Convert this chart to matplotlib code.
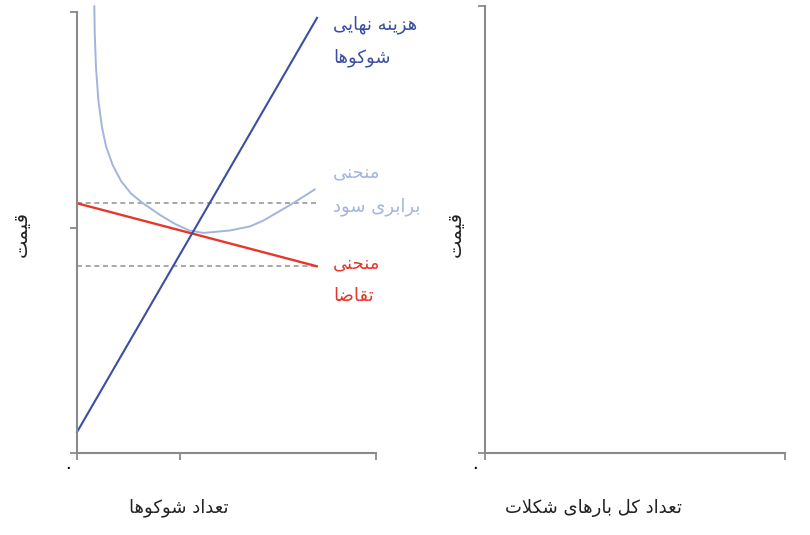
import numpy as np
import matplotlib
matplotlib.use('Agg')
import matplotlib.pyplot as plt

plt.rcParams['font.family'] = ['DejaVu Sans']

# ── data ──
# marginal cost of the firm (straight line)
mc_q = [0.0, 23.28]
mc_p = [0.93, 19.34]
# demand curve facing the firm
dem_q = [0.0, 23.25]
dem_p = [11.1, 8.3]
# break-even (average cost) curve
be_q = [1.68, 1.72, 1.84, 2.07, 2.42, 2.81, 3.46, 4.27, 5.24, 6.37, 8.05, 9.51,
        10.89, 12.26, 14.84, 16.78, 18.07, 19.69, 20.98, 23.08]
be_p = [19.87, 18.67, 17.16, 15.69, 14.49, 13.64, 12.80, 12.09, 11.53, 11.11, 10.58, 10.18,
        9.89, 9.78, 9.89, 10.07, 10.33, 10.76, 11.11, 11.72]
# dashed reference prices
ref_prices = [11.1, 8.3]
ref_q_end = 23.3

x_max, y_max = 29.0, 19.6
x_ticks = [0, 10, x_max]
y_ticks = [0, 10, y_max]

lbl_mc = ['هزینه نهایی', 'شوکوها']
lbl_be = ['منحنی', 'برابری سود']
lbl_dem = ['منحنی', 'تقاضا']
lbl_price = 'قیمت'
lbl_left_x = 'تعداد شوکوها'
lbl_right_x = 'تعداد کل بارهای شکلات'
lbl_zero = '۰'

# ── poor man's Arabic shaping (matplotlib has no bidi / shaping) ──
DUAL = set('بتحسشضعقلمنهیک')
FORMS = {
    'ا': ('\uFE8D', '\uFE8E', None, None),
    'ب': ('\uFE8F', '\uFE90', '\uFE91', '\uFE92'),
    'ت': ('\uFE95', '\uFE96', '\uFE97', '\uFE98'),
    'ح': ('\uFEA1', '\uFEA2', '\uFEA3', '\uFEA4'),
    'د': ('\uFEA9', '\uFEAA', None, None),
    'ر': ('\uFEAD', '\uFEAE', None, None),
    'ز': ('\uFEAF', '\uFEB0', None, None),
    'س': ('\uFEB1', '\uFEB2', '\uFEB3', '\uFEB4'),
    'ش': ('\uFEB5', '\uFEB6', '\uFEB7', '\uFEB8'),
    'ض': ('\uFEBD', '\uFEBE', '\uFEBF', '\uFEC0'),
    'ع': ('\uFEC9', '\uFECA', '\uFECB', '\uFECC'),
    'ق': ('\uFED5', '\uFED6', '\uFED7', '\uFED8'),
    'ل': ('\uFEDD', '\uFEDE', '\uFEDF', '\uFEE0'),
    'م': ('\uFEE1', '\uFEE2', '\uFEE3', '\uFEE4'),
    'ن': ('\uFEE5', '\uFEE6', '\uFEE7', '\uFEE8'),
    'ه': ('\uFEE9', '\uFEEA', '\uFEEB', '\uFEEC'),
    'و': ('\uFEED', '\uFEEE', None, None),
    'ی': ('\uFBFC', '\uFBFD', '\uFBFE', '\uFBFF'),
    'ک': ('\uFB8E', '\uFB8F', '\uFB90', '\uFB91'),
}


def fa(s):
    out = []
    i = 0
    while i < len(s):
        c = s[i]
        if c not in FORMS:
            out.append(c)
            i += 1
            continue
        joins_prev = i > 0 and s[i - 1] in DUAL
        if c == 'ل' and i + 1 < len(s) and s[i + 1] == 'ا':
            out.append('\uFEFC' if joins_prev else '\uFEFB')
            i += 2
            continue
        joins_next = c in DUAL and i + 1 < len(s) and s[i + 1] in FORMS
        iso, fin, ini, med = FORMS[c]
        if joins_prev and joins_next:
            out.append(med)
        elif joins_prev:
            out.append(fin)
        elif joins_next:
            out.append(ini)
        else:
            out.append(iso)
        i += 1
    return ''.join(reversed(out))


C_MC = '#3b4ea3'
C_BE = '#a3b4dd'
C_DEM = '#e5382b'
C_AX = '#8a8a8a'
C_DASH = '#9a9a9a'
FS = 13

fig = plt.figure(figsize=(8.1, 5.35), dpi=100)
ax1 = fig.add_axes([77 / 810, 82 / 535, 299 / 810, 441 / 535])
ax2 = fig.add_axes([485 / 810, 82 / 535, 300 / 810, 447 / 535])


def style(ax, xt, yt):
    for s in ['top', 'right']:
        ax.spines[s].set_visible(False)
    for s in ['left', 'bottom']:
        ax.spines[s].set_color(C_AX)
        ax.spines[s].set_linewidth(1.5)
    ax.set_xticks(xt)
    ax.set_yticks(yt)
    ax.set_xticklabels([])
    ax.set_yticklabels([])
    ax.tick_params(direction='out', length=5, width=1.3, color=C_AX)


# ── left panel: the firm ──
ax1.set_xlim(0, x_max)
ax1.set_ylim(0, y_max)
style(ax1, x_ticks, y_ticks)

for p in ref_prices:
    ax1.plot([0, ref_q_end], [p, p], color=C_DASH, lw=1.2, dashes=(3, 2.2))
ax1.plot(be_q, be_p, color=C_BE, lw=1.4, clip_on=False,
         solid_capstyle='round', solid_joinstyle='round')
ax1.plot(dem_q, dem_p, color=C_DEM, lw=1.7)
ax1.plot(mc_q, mc_p, color=C_MC, lw=1.5, clip_on=False)

x_lab = 24.83
for txt, y, col in [(lbl_mc[0], 19.02, C_MC), (lbl_mc[1], 17.56, C_MC),
                    (lbl_be[0], 12.49, C_BE), (lbl_be[1], 10.93, C_BE),
                    (lbl_dem[0], 8.44, C_DEM), (lbl_dem[1], 6.98, C_DEM)]:
    ax1.text(x_lab, y, fa(txt), color=col, fontsize=FS, ha='left', va='center',
             clip_on=False)

# ── right panel: the market ──
ax2.set_xlim(0, 1)
ax2.set_ylim(0, 1)
style(ax2, [0, 1], [0, 1])

# axis labels and origins
fig.text(21 / 810, 1 - 234 / 535, fa(lbl_price), rotation=90, fontsize=14,
         ha='center', va='center', color='#222222')
fig.text(455 / 810, 1 - 234 / 535, fa(lbl_price), rotation=90, fontsize=14,
         ha='center', va='center', color='#222222')
fig.text(179 / 810, 1 - 508 / 535, fa(lbl_left_x), fontsize=FS,
         ha='center', va='center', color='#222222')
fig.text(593 / 810, 1 - 508 / 535, fa(lbl_right_x), fontsize=FS,
         ha='center', va='center', color='#222222')
fig.text(68 / 810, 1 - 468 / 535, lbl_zero, fontsize=FS, ha='center', va='center')
fig.text(475 / 810, 1 - 468 / 535, lbl_zero, fontsize=FS, ha='center', va='center')

fig.savefig('out.png', dpi=100)
plt.close(fig)
